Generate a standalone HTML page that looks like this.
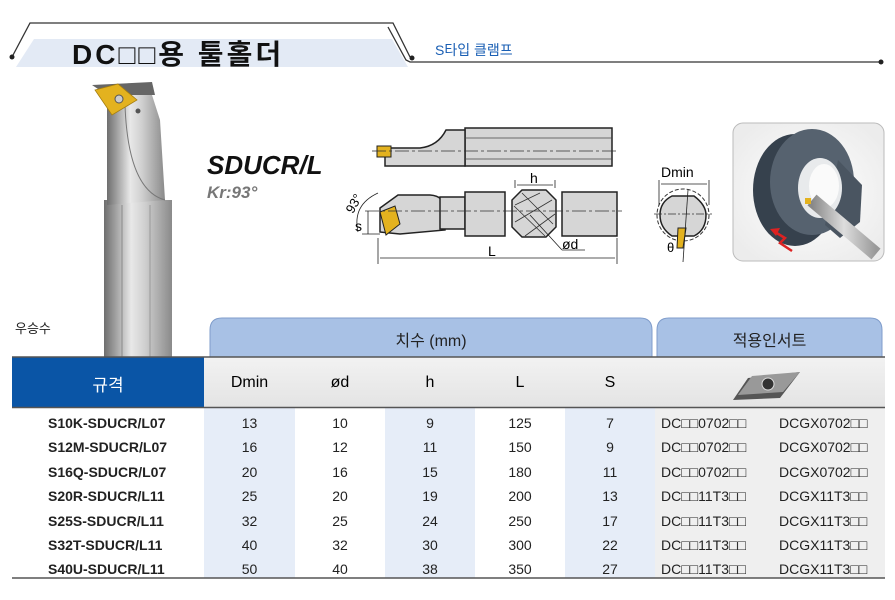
<!DOCTYPE html>
<html><head><meta charset="utf-8"><style>
*{margin:0;padding:0;box-sizing:border-box}
body{width:895px;height:600px;background:#fff;position:relative;overflow:hidden;font-family:"Liberation Sans","Noto Sans CJK KR",sans-serif}
.a{position:absolute}
.c{position:absolute;text-align:center}
</style></head><body>
<svg class="a" style="left:0;top:0" width="895" height="600">
<defs>
<linearGradient id="sh" x1="0" x2="1"><stop offset="0" stop-color="#6e6e6e"/><stop offset=".15" stop-color="#9a9a9a"/><stop offset=".4" stop-color="#e8e8e8"/><stop offset=".6" stop-color="#d0d0d0"/><stop offset="1" stop-color="#8a8a8a"/></linearGradient>
<linearGradient id="hd" x1="0" y1="0" x2="0" y2="1"><stop offset="0" stop-color="#f2f2f2"/><stop offset="1" stop-color="#e4e4e4"/></linearGradient>
<radialGradient id="ph" cx=".5" cy=".5" r=".6"><stop offset="0" stop-color="#fff"/><stop offset="1" stop-color="#ececec"/></radialGradient>
<linearGradient id="bar" x1="0" y1="0" x2="1" y2="0"><stop offset="0" stop-color="#888"/><stop offset=".5" stop-color="#ddd"/><stop offset="1" stop-color="#999"/></linearGradient>
</defs>
<!-- header title -->
<polygon points="16,67 34,39 392,39 408,67" fill="#e3eaf5"/>
<polyline points="12,57 30,23 393,23 410,57" fill="none" stroke="#333" stroke-width="1.3"/>
<polyline points="388,27 406,60 410,62 880,62" fill="none" stroke="#333" stroke-width="1.3"/>
<circle cx="12" cy="57" r="2.5" fill="#222"/><circle cx="412" cy="58" r="2.5" fill="#222"/><circle cx="881" cy="62" r="2.5" fill="#222"/>
<!-- tool photo -->
<rect x="104" y="200" width="68" height="158" fill="url(#sh)"/>
<line x1="122" y1="205" x2="122" y2="358" stroke="#8a8a8a"/><line x1="150" y1="205" x2="150" y2="358" stroke="#999"/>
<path d="M107,95 L152,95 L160,120 L165,200 L107,205 Z" fill="url(#sh)"/>
<path d="M125,105 Q128,190 165,200" fill="none" stroke="#777" stroke-width="1"/>
<polygon points="92,85 152,82 155,95 107,95" fill="#666"/>
<polygon points="95,90 118,84 137,100 112,115" fill="#e3b21f" stroke="#a57e10" stroke-width=".8"/>
<circle cx="119" cy="99" r="4" fill="#ccc" stroke="#555"/><circle cx="138" cy="111" r="2.5" fill="#555"/>
<!-- top view -->
<g fill="#d6d6d6" stroke="#222" stroke-width="1.5">
<rect x="465" y="128" width="147" height="38"/>
<path d="M385,148 L420,148 Q438,146 446,130 L465,130 L465,166 L385,166 Z"/>
</g>
<rect x="377" y="146" width="14" height="11" fill="#e3b21f" stroke="#222"/>
<line x1="372" y1="151" x2="618" y2="151" stroke="#333" stroke-dasharray="14,3,3,3" stroke-width=".8"/>
<line x1="465" y1="138" x2="612" y2="138" stroke="#444" stroke-width=".7"/><line x1="465" y1="159" x2="612" y2="159" stroke="#444" stroke-width=".7"/>
<!-- side view -->
<g fill="#d6d6d6" stroke="#222" stroke-width="1.5">
<path d="M380,208 L398,195 L430,195 Q445,196 445,210 L445,230 L400,234 L380,232 Z"/>
<rect x="440" y="197" width="25" height="32"/>
<rect x="465" y="192" width="40" height="44"/>
<rect x="562" y="192" width="55" height="44"/>
<path d="M522,190 L546,190 L556,200 L556,227 L546,237 L522,237 L512,227 L512,200 Z"/>
</g>
<path d="M515,205 L540,193 M515,222 L552,200 M525,236 L555,214 M522,193 L553,224 M514,206 L545,236" stroke="#333" stroke-width=".8"/>
<polygon points="380,212 395,206 400,224 386,235" fill="#e3b21f" stroke="#222"/>
<line x1="365" y1="211" x2="622" y2="211" stroke="#333" stroke-dasharray="14,3,3,3" stroke-width=".8"/>
<g stroke="#222" stroke-width=".8" fill="none">
<line x1="378" y1="238" x2="378" y2="264"/><line x1="617" y1="238" x2="617" y2="264"/>
<line x1="380" y1="258" x2="615" y2="258"/>
<line x1="515" y1="188" x2="515" y2="180"/><line x1="555" y1="188" x2="555" y2="180"/><line x1="517" y1="185" x2="553" y2="185"/>
<line x1="368" y1="211" x2="368" y2="234"/><line x1="362" y1="234" x2="380" y2="234"/>
<path d="M358,232 Q352,205 378,193"/>
<line x1="530" y1="215" x2="562" y2="250"/><line x1="562" y1="250" x2="585" y2="250"/>
</g>
<!-- end view -->
<circle cx="683" cy="215" r="26" fill="none" stroke="#333" stroke-dasharray="4,2"/>
<path d="M672,196 L694,196 Q706,205 706,215 Q706,230 694,236 L672,236 Q660,228 660,215 Q660,202 672,196 Z" fill="#d6d6d6" stroke="#222" stroke-width="1.5"/>
<polygon points="678,228 686,228 683,248 677,248" fill="#e3b21f" stroke="#222"/>
<line x1="654" y1="214" x2="712" y2="214" stroke="#333" stroke-dasharray="8,2,2,2" stroke-width=".8"/>
<g stroke="#222" stroke-width=".8"><line x1="659" y1="180" x2="659" y2="205"/><line x1="709" y1="180" x2="709" y2="205"/><line x1="661" y1="184" x2="707" y2="184"/><line x1="688" y1="190" x2="683" y2="262"/></g>
<!-- photo -->
<rect x="733" y="123" width="151" height="138" rx="10" fill="url(#ph)" stroke="#bbb"/>
<ellipse cx="795" cy="190" rx="42" ry="56" fill="#36414d"/>
<ellipse cx="812" cy="182" rx="42" ry="53" fill="#56626f"/>
<path d="M838,160 L862,185 L860,222 L840,238 L825,225 Z" fill="#4a5561"/>
<ellipse cx="820" cy="188" rx="22" ry="30" fill="#e8eaec"/>
<ellipse cx="824" cy="186" rx="15" ry="22" fill="#fafafa"/>
<line x1="812" y1="200" x2="876" y2="254" stroke="url(#bar)" stroke-width="14"/>
<rect x="805" y="198" width="6" height="6" fill="#e3b21f"/>
<path d="M792,251 L780,243 L785,238 L775,232" stroke="#d22" stroke-width="2.5" fill="none"/>
<polygon points="770,229 780,228 776,236" fill="#d22"/>
<!-- tabs -->
<path d="M210,357 L210,330 Q210,318 222,318 L640,318 Q652,318 652,330 L652,357 Z" fill="#a8c1e5" stroke="#7f9ccb"/>
<path d="M657,357 L657,330 Q657,318 669,318 L870,318 Q882,318 882,330 L882,357 Z" fill="#a8c1e5" stroke="#7f9ccb"/>
<!-- header row 2 -->
<rect x="204" y="357" width="681" height="50" fill="url(#hd)"/>
<rect x="12" y="357" width="192" height="50" fill="#0a55a6"/>
<rect x="204" y="408" width="91" height="170" fill="#e6edf8"/>
<rect x="385" y="408" width="90" height="170" fill="#e6edf8"/>
<rect x="565" y="408" width="90" height="170" fill="#e6edf8"/>
<rect x="655" y="408" width="230" height="170" fill="#efefef"/>
<line x1="12" y1="357" x2="885" y2="357" stroke="#555" stroke-width="1.5"/>
<line x1="12" y1="407.5" x2="885" y2="407.5" stroke="#555" stroke-width="1.5"/>
<line x1="12" y1="578" x2="885" y2="578" stroke="#555" stroke-width="1.5"/>
<polygon points="748,378 800,372 780,398 733,400" fill="#555"/>
<polygon points="752,376 800,372 783,392 738,395" fill="#999"/>
<circle cx="768" cy="384" r="6" fill="#333" stroke="#ddd"/>
</svg>
<div class="a" style="left:72px;top:33px;font-size:28px;font-weight:bold;color:#111;letter-spacing:3px">DC□□용 툴홀더</div>
<div class="a" style="left:435px;top:40px;font-size:14px;color:#1a5fb4">S타입 클램프</div>
<div class="a" style="left:207px;top:150px;font-size:26px;font-weight:bold;font-style:italic;color:#111">SDUCR/L</div>
<div class="a" style="left:207px;top:183px;font-size:17px;font-weight:bold;font-style:italic;color:#777">Kr:93°</div>
<div class="a" style="left:344px;top:196px;font-size:13px;transform:rotate(-60deg)">93°</div>
<div class="a" style="left:355px;top:218px;font-size:14px">s</div>
<div class="a" style="left:488px;top:243px;font-size:14px">L</div>
<div class="a" style="left:530px;top:170px;font-size:14px">h</div>
<div class="a" style="left:562px;top:236px;font-size:14px">ød</div>
<div class="a" style="left:661px;top:164px;font-size:14px">Dmin</div>
<div class="a" style="left:667px;top:240px;font-size:13px">θ</div>
<div class="a" style="left:15px;top:318px;font-size:13px;color:#222">우승수</div>
<div class="c" style="left:210px;width:442px;top:327px;font-size:16px;color:#222">치수 (mm)</div>
<div class="c" style="left:657px;width:225px;top:327px;font-size:16px;color:#222">적용인서트</div>
<div class="c" style="left:12px;width:192px;top:371px;font-size:17px;color:#fff">규격</div>
<div class="c" style="left:204px;width:91px;top:374px;font-size:16px">Dmin</div>
<div class="c" style="left:295px;width:90px;top:374px;font-size:16px">ød</div>
<div class="c" style="left:385px;width:90px;top:374px;font-size:16px">h</div>
<div class="c" style="left:475px;width:90px;top:374px;font-size:16px">L</div>
<div class="c" style="left:565px;width:90px;top:374px;font-size:16px">S</div>
<div class="a" style="left:0;top:411px;width:895px;font-size:14px;color:#222;line-height:24.4px">
<div style="position:absolute;left:48px;font-weight:bold;width:160px">S10K-SDUCR/L07<br>S12M-SDUCR/L07<br>S16Q-SDUCR/L07<br>S20R-SDUCR/L11<br>S25S-SDUCR/L11<br>S32T-SDUCR/L11<br>S40U-SDUCR/L11</div>
<div class="c" style="left:204px;width:91px">13<br>16<br>20<br>25<br>32<br>40<br>50</div>
<div class="c" style="left:295px;width:90px">10<br>12<br>16<br>20<br>25<br>32<br>40</div>
<div class="c" style="left:385px;width:90px">9<br>11<br>15<br>19<br>24<br>30<br>38</div>
<div class="c" style="left:475px;width:90px">125<br>150<br>180<br>200<br>250<br>300<br>350</div>
<div class="c" style="left:565px;width:90px">7<br>9<br>11<br>13<br>17<br>22<br>27</div>
<div style="position:absolute;left:661px;width:120px">DC□□0702□□<br>DC□□0702□□<br>DC□□0702□□<br>DC□□11T3□□<br>DC□□11T3□□<br>DC□□11T3□□<br>DC□□11T3□□</div>
<div style="position:absolute;left:779px;width:110px">DCGX0702□□<br>DCGX0702□□<br>DCGX0702□□<br>DCGX11T3□□<br>DCGX11T3□□<br>DCGX11T3□□<br>DCGX11T3□□</div>
</div>
</body></html>
